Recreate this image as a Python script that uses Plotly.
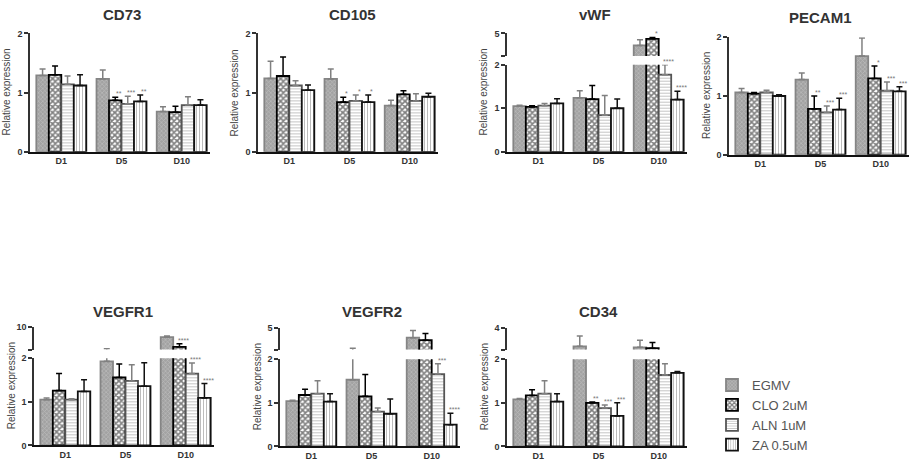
import plotly.graph_objects as go

days = ["D1", "D5", "D10"]
treatments = ["EGMV", "CLO 2uM", "ALN 1uM", "ZA 0.5uM"]

# rows = treatments (EGMV, CLO, ALN, ZA); columns = days (D1, D5, D10)
cd73_mean = [[1.29, 1.23, 0.68], [1.30, 0.87, 0.67], [1.14, 0.81, 0.79], [1.12, 0.85, 0.79]]
cd73_sem = [[0.11, 0.15, 0.08], [0.15, 0.05, 0.10], [0.14, 0.13, 0.14], [0.18, 0.11, 0.09]]
cd73_sig = [["", "", ""], ["", "**", ""], ["", "***", ""], ["", "**", ""]]

cd105_mean = [[1.24, 1.23, 0.78], [1.28, 0.84, 0.97], [1.12, 0.86, 0.86], [1.04, 0.84, 0.93]]
cd105_sem = [[0.29, 0.17, 0.09], [0.32, 0.08, 0.06], [0.08, 0.10, 0.12], [0.09, 0.12, 0.06]]
cd105_sig = [["", "", ""], ["", "*", ""], ["", "*", ""], ["", "*", ""]]

vwf_mean = [[1.05, 1.24, 3.93], [1.03, 1.21, 4.52], [1.06, 0.84, 1.77], [1.11, 1.00, 1.20]]
vwf_sem = [[0.02, 0.16, 0.50], [0.03, 0.31, 0.12], [0.05, 0.45, 0.23], [0.11, 0.21, 0.19]]
vwf_sig = [["", "", ""], ["", "", "*"], ["", "", "****"], ["", "", "****"]]

pecam1_mean = [[1.06, 1.28, 1.68], [1.04, 0.78, 1.30], [1.06, 0.72, 1.09], [1.00, 0.77, 1.08]]
pecam1_sem = [[0.07, 0.11, 0.31], [0.02, 0.22, 0.21], [0.04, 0.11, 0.15], [0.02, 0.19, 0.08]]
pecam1_sig = [["", "", ""], ["", "**", "*"], ["", "***", "***"], ["", "***", "***"]]

vegfr1_mean = [[1.05, 1.93, 7.76], [1.26, 1.56, 5.60], [1.05, 1.48, 1.65], [1.24, 1.36, 1.09]]
vegfr1_sem = [[0.04, 3.22, 0.23], [0.39, 0.31, 0.67], [0.02, 0.37, 0.24], [0.27, 0.54, 0.33]]
vegfr1_sig = [["", "", ""], ["", "", "****"], ["", "", "****"], ["", "", "****"]]

vegfr2_mean = [[1.04, 1.53, 4.10], [1.18, 1.15, 3.87], [1.21, 0.80, 1.66], [1.03, 0.75, 0.50]]
vegfr2_sem = [[0.02, 1.59, 0.66], [0.13, 0.50, 0.62], [0.30, 0.08, 0.24], [0.18, 0.34, 0.26]]
vegfr2_sig = [["", "", ""], ["", "", ""], ["", "", "***"], ["", "", "****"]]

cd34_mean = [[1.08, 3.15, 3.10], [1.17, 1.00, 3.06], [1.21, 0.88, 1.64], [1.03, 0.70, 1.69]]
cd34_sem = [[0.02, 0.48, 0.33], [0.13, 0.02, 0.27], [0.30, 0.07, 0.26], [0.18, 0.30, 0.03]]
cd34_sig = [["", "", ""], ["", "**", ""], ["", "***", ""], ["", "***", ""]]

W, H = 911, 470
FONT = "Arial, Liberation Sans, sans-serif"


def fx(p):
    return p / W


def fy(p):
    return 1 - p / H


# panel layout: title, data, left px, lower segment (top px, bottom px), upper segment, title pos
panels = [
    ("CD73", cd73_mean, cd73_sem, cd73_sig, 30, (29, 150), None, (122, 10)),
    ("CD105", cd105_mean, cd105_sem, cd105_sig, 258, (29, 150), None, (352, 10)),
    ("vWF", vwf_mean, vwf_sem, vwf_sig, 507, (61, 150), (29, 52, 3, 5), (595, 10)),
    ("PECAM1", pecam1_mean, pecam1_sem, pecam1_sig, 729, (33, 153), None, (820, 13)),
    ("VEGFR1", vegfr1_mean, vegfr1_sem, vegfr1_sig, 34, (361, 450), (329, 352, 5, 10), (123, 313)),
    ("VEGFR2", vegfr2_mean, vegfr2_sem, vegfr2_sig, 280, (362, 451), (330, 352, 3, 5), (372, 313)),
    ("CD34", cd34_mean, cd34_sem, cd34_sig, 507, (362, 451), (330, 352, 3, 4), (598, 313)),
]

styles = [
    dict(bg="#a2a2a2", fg="#d6d6d6", shape="x", size=3, sol=0.4, line="#858585", err="#808080"),
    dict(bg="#ffffff", fg="#000000", shape="x", size=4, sol=0.65, line="#000000", err="#000000"),
    dict(bg="#ffffff", fg="#8a8a8a", shape="-", size=3, sol=0.35, line="#555555", err="#808080"),
    dict(bg="#ffffff", fg="#7a7a7a", shape="|", size=3, sol=0.35, line="#111111", err="#111111"),
]

fig = go.Figure()
layout = {}
annotations = []
PANEL_W = 180
XR = [-0.52, 2.47]
BARGAP = 0.17
bw = (1 - BARGAP) / 4

upper_idx = 8
for k, (title, mean, sem, sig, left, low, up, tpos) in enumerate(panels):
    n = k + 1
    xname = "x" if n == 1 else f"x{n}"
    yname = "y" if n == 1 else f"y{n}"
    xdom = [fx(left), fx(left + PANEL_W)]
    layout[f"xaxis{n}"] = dict(
        domain=xdom, anchor=yname, type="category", range=XR,
        showline=True, linecolor="#111", linewidth=1.6, ticks="",
        tickfont=dict(family=FONT, size=9, color="#333", weight="bold"),
        showgrid=False, zeroline=False, fixedrange=True,
    )
    layout[f"yaxis{n}"] = dict(
        domain=[fy(low[1]), fy(low[0])], anchor=xname, range=[0, 2],
        tickvals=[0, 1, 2], ticks="outside", ticklen=4, tickwidth=1.5, tickcolor="#333",
        showline=True, linecolor="#333", linewidth=1.5,
        tickfont=dict(family=FONT, size=9, color="#333", weight="bold"),
        showgrid=False, zeroline=False, fixedrange=True,
    )
    uname = None
    if up:
        un = upper_idx
        upper_idx += 1
        uname = f"y{un}"
        layout[f"yaxis{un}"] = dict(
            domain=[fy(up[1]), fy(up[0])], anchor=xname, range=[up[2], up[3]],
            tickvals=[up[2], up[3]], ticktext=["", str(up[3])],
            ticks="outside", ticklen=4, tickwidth=1.5, tickcolor="#333",
            showline=True, linecolor="#333", linewidth=1.5,
            tickfont=dict(family=FONT, size=9, color="#333", weight="bold"),
            showgrid=False, zeroline=False, fixedrange=True,
        )
    for i, tr in enumerate(treatments):
        st = styles[i]
        for yax in [yname] + ([uname] if uname else []):
            fig.add_trace(go.Bar(
                x=days, y=mean[i], name=tr, legendgroup=tr,
                showlegend=(k == 0 and yax == yname),
                xaxis=xname, yaxis=yax,
                marker=dict(
                    color=st["bg"],
                    line=dict(color=st["line"], width=1.8),
                    pattern=dict(shape=st["shape"], fgcolor=st["fg"], bgcolor=st["bg"],
                                 size=st["size"], solidity=st["sol"]),
                ),
                error_y=dict(type="data", symmetric=False, array=sem[i],
                             arrayminus=[0] * len(days), color=st["err"],
                             thickness=1.5, width=3),
                hoverinfo="skip",
            ))
        # significance marks
        for d in range(len(days)):
            s = sig[i][d]
            if not s:
                continue
            top = mean[i][d] + sem[i][d]
            if top <= 2:
                ya, yv = yname, top
            elif up and top >= up[2]:
                ya, yv = uname, min(top, up[3])
            else:
                ya, yv = yname, 2
            annotations.append(dict(
                x=d + (i - 1.5) * bw + 0.06, y=yv, xref=xname, yref=ya,
                text=s, showarrow=False, yanchor="bottom", xanchor="center",
                font=dict(family=FONT, size=7, color="#777"), yshift=-2,
            ))
    # title
    annotations.append(dict(
        x=fx(tpos[0]), y=fy(tpos[1]), xref="paper", yref="paper", text=f"<b>{title}</b>",
        showarrow=False, xanchor="center", yanchor="middle",
        font=dict(family=FONT, size=15, color="#333"),
    ))
    # y-axis title
    ytop = up[0] if up else low[0]
    annotations.append(dict(
        x=fx(left - 23), y=fy((ytop + low[1]) / 2), xref="paper", yref="paper",
        text="Relative expression", textangle=-90, showarrow=False,
        xanchor="center", yanchor="middle",
        font=dict(family=FONT, size=10, color="#444"),
    ))

fig.update_layout(
    **layout,
    width=W, height=H,
    margin=dict(l=0, r=0, t=0, b=0),
    paper_bgcolor="white", plot_bgcolor="white",
    barmode="group", bargap=BARGAP, bargroupgap=0,
    annotations=annotations,
    legend=dict(
        x=fx(712), y=fy(373), xanchor="left", yanchor="top",
        font=dict(family=FONT, size=13, color="#555"),
        bgcolor="rgba(0,0,0,0)", itemwidth=30, tracegroupgap=0,
    ),
    showlegend=True,
)

fig.write_html("out.html")
